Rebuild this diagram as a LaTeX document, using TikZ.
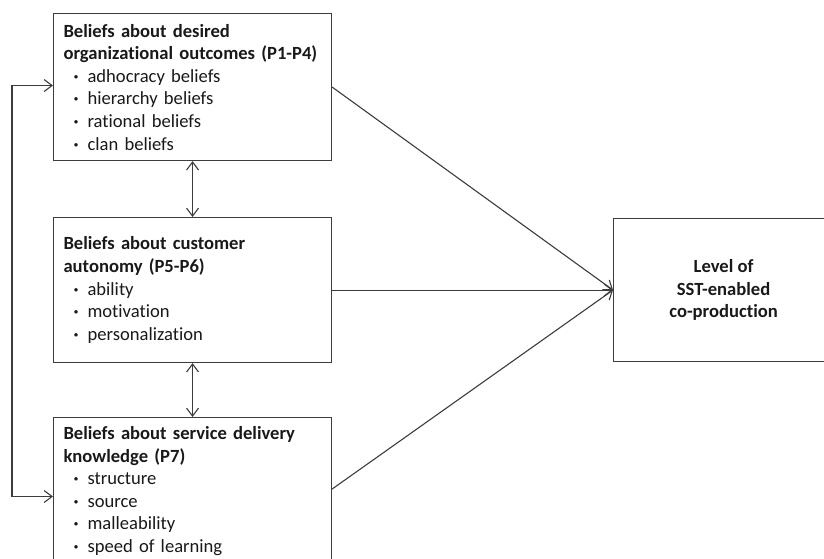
\documentclass[tikz,border=0pt]{standalone}
\usepackage{fontspec}
\setmainfont{Carlito}[Ligatures=NoCommon]
\usetikzlibrary{arrows.meta}
\definecolor{LineGray}{RGB}{60,60,60}
\definecolor{TextGray}{RGB}{25,25,25}
\newcommand{\bul}{\hspace*{10pt}\makebox[14pt][l]{\textbf{·}}}

\begin{document}
\begin{tikzpicture}[x=1pt, y=-1pt,
    belief/.style={draw=LineGray, line width=1.1pt, anchor=north west, text=TextGray,
                   text width=258pt, inner xsep=10pt, align=left,
                   font=\fontsize{18.6}{22.6}\selectfont},
    level/.style={draw=LineGray, line width=1.1pt, anchor=north west, text=TextGray,
                  minimum width=220pt, minimum height=143pt, align=center,
                  font=\fontsize{18.6}{22.6}\selectfont\bfseries},
    arr/.style={-{Straight Barb[length=8pt, width=12pt]}, draw=LineGray, line width=1.1pt},
    dbl/.style={{Straight Barb[length=8pt, width=12pt]}-{Straight Barb[length=8pt, width=12pt]},
                draw=LineGray, line width=1.1pt}
  ]
  \clip (0,0) rectangle (824,559);

  \node[belief, minimum height=147pt] (outc) at (53,13)
        {\textbf{Beliefs about desired}\\\textbf{organizational outcomes (P1-P4)}\\
         \bul adhocracy beliefs\\\bul hierarchy beliefs\\\bul rational beliefs\\\bul clan beliefs};

  \node[belief, minimum height=145pt] (auto) at (53,217)
        {\textbf{Beliefs about customer}\\\textbf{autonomy (P5-P6)}\\
         \bul ability\\\bul motivation\\\bul personalization};

  \node[belief, minimum height=147pt] (know) at (53,417)
        {\textbf{Beliefs about service delivery}\\\textbf{knowledge (P7)}\\
         \bul structure\\\bul source\\\bul malleability\\\bul speed of learning};

  \node[level] (coprod) at (613,218) {Level of\\SST-enabled\\co-production};

  \coordinate (loopin1) at ([yshift=1.5pt]outc.west);
  \coordinate (loopin3) at ([yshift=-5.5pt]know.west);
  \coordinate (loop) at (12,0);

  \draw[arr] (outc.east) -- (coprod.west);
  \draw[arr] (auto.east) -- (coprod.west);
  \draw[arr] ([yshift=2pt]know.east) -- (coprod.west);

  \draw[dbl] (outc.south) -- (auto.north);
  \draw[dbl] (auto.south) -- (know.north);

  % feedback loop on the left
  \draw[dbl] (loopin1) -- (loop |- loopin1) -- (loop |- loopin3) -- (loopin3);
\end{tikzpicture}
\end{document}
